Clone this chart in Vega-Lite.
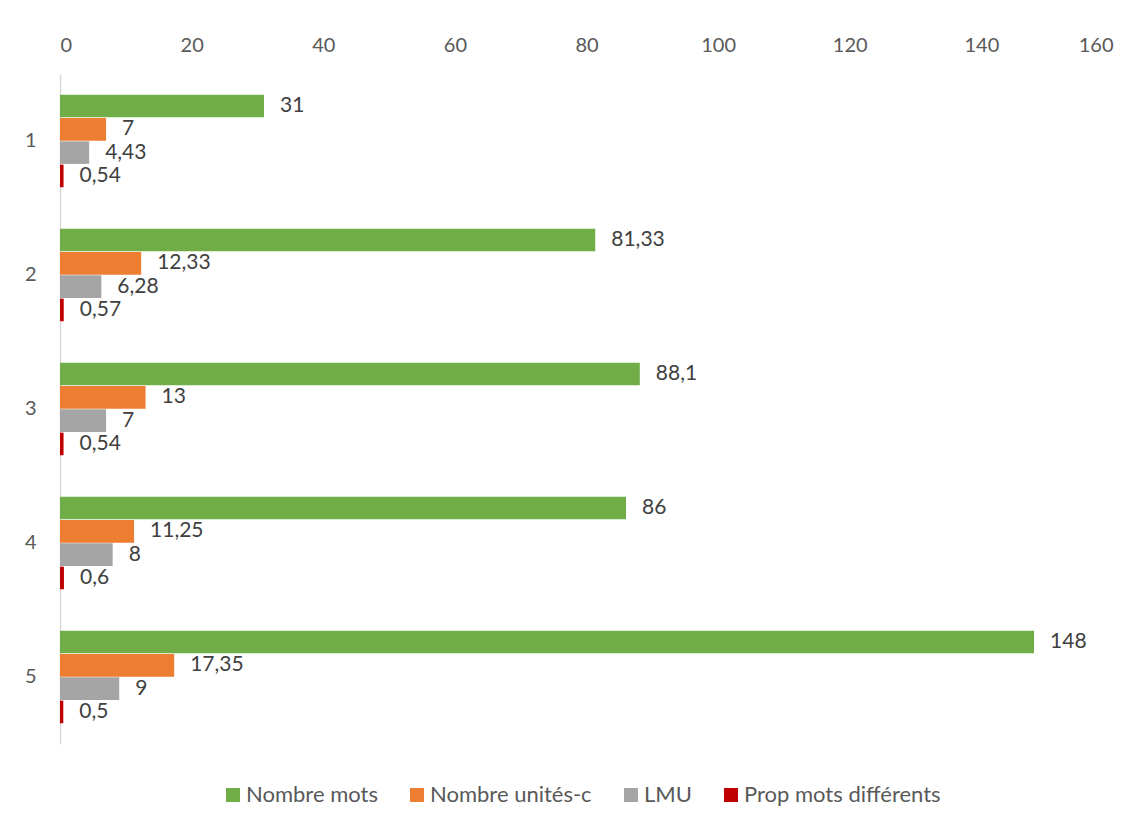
{
  "$schema": "https://vega.github.io/schema/vega-lite/v6.json",
  "width": 1053,
  "height": 670,
  "autosize": {"type": "none"},
  "padding": {"left": 60, "top": 74, "right": 35, "bottom": 83},
  "background": "white",
  "config": {
    "view": {"stroke": null},
    "font": "Lato",
    "locale": {"number": {"decimal": ",", "thousands": " ", "grouping": [3], "currency": ["", " €"]}}
  },
  "data": {
    "values": [
      {"groupe": "1", "serie": "Nombre mots", "valeur": 31},
      {"groupe": "1", "serie": "Nombre unités-c", "valeur": 7},
      {"groupe": "1", "serie": "LMU", "valeur": 4.43},
      {"groupe": "1", "serie": "Prop mots différents", "valeur": 0.54},
      {"groupe": "2", "serie": "Nombre mots", "valeur": 81.33},
      {"groupe": "2", "serie": "Nombre unités-c", "valeur": 12.33},
      {"groupe": "2", "serie": "LMU", "valeur": 6.28},
      {"groupe": "2", "serie": "Prop mots différents", "valeur": 0.57},
      {"groupe": "3", "serie": "Nombre mots", "valeur": 88.1},
      {"groupe": "3", "serie": "Nombre unités-c", "valeur": 13},
      {"groupe": "3", "serie": "LMU", "valeur": 7},
      {"groupe": "3", "serie": "Prop mots différents", "valeur": 0.54},
      {"groupe": "4", "serie": "Nombre mots", "valeur": 86},
      {"groupe": "4", "serie": "Nombre unités-c", "valeur": 11.25},
      {"groupe": "4", "serie": "LMU", "valeur": 8},
      {"groupe": "4", "serie": "Prop mots différents", "valeur": 0.6},
      {"groupe": "5", "serie": "Nombre mots", "valeur": 148},
      {"groupe": "5", "serie": "Nombre unités-c", "valeur": 17.35},
      {"groupe": "5", "serie": "LMU", "valeur": 9},
      {"groupe": "5", "serie": "Prop mots différents", "valeur": 0.5}
    ]
  },
  "encoding": {
    "y": {
      "field": "groupe",
      "type": "nominal",
      "sort": ["1", "2", "3", "4", "5"],
      "scale": {"paddingInner": 0.31, "paddingOuter": 0.155},
      "axis": {
        "title": null,
        "ticks": false,
        "domain": true,
        "domainColor": "#d9d9d9",
        "domainWidth": 1.5,
        "labelFont": "Lato",
        "labelFontSize": 20,
        "labelColor": "#595959",
        "labelPadding": 24,
        "labelAngle": 0
      }
    },
    "yOffset": {
      "field": "serie",
      "type": "nominal",
      "sort": ["Nombre mots", "Nombre unités-c", "LMU", "Prop mots différents"],
      "scale": {"paddingInner": 0.03, "paddingOuter": 0}
    },
    "x": {
      "field": "valeur",
      "type": "quantitative",
      "scale": {"domain": [0, 160], "nice": false},
      "axis": {
        "orient": "top",
        "title": null,
        "values": [0, 20, 40, 60, 80, 100, 120, 140, 160],
        "ticks": false,
        "domain": false,
        "grid": false,
        "labelFont": "Lato",
        "labelFontSize": 20,
        "labelColor": "#595959",
        "labelPadding": 19,
        "format": "d"
      }
    }
  },
  "layer": [
    {
      "mark": {"type": "bar"},
      "encoding": {
        "color": {
          "field": "serie",
          "type": "nominal",
          "sort": ["Nombre mots", "Nombre unités-c", "LMU", "Prop mots différents"],
          "scale": {
            "domain": ["Nombre mots", "Nombre unités-c", "LMU", "Prop mots différents"],
            "range": ["#70AD47", "#ED7D31", "#A5A5A5", "#C00000"]
          },
          "legend": {
            "title": null,
            "orient": "none",
            "direction": "horizontal",
            "legendX": 162,
            "legendY": 710,
            "symbolType": "square",
            "symbolSize": 196,
            "symbolStrokeWidth": 0,
            "labelFont": "Lato",
            "labelFontSize": 22,
            "labelColor": "#595959",
            "labelLimit": 0,
            "columnPadding": 28,
            "labelOffset": 2
          }
        }
      }
    },
    {
      "mark": {"type": "text", "align": "left", "baseline": "middle", "dx": 16, "font": "Lato", "fontSize": 21, "color": "#404040"},
      "encoding": {
        "text": {"field": "valeur", "type": "quantitative", "format": ".4~g"}
      }
    }
  ]
}
